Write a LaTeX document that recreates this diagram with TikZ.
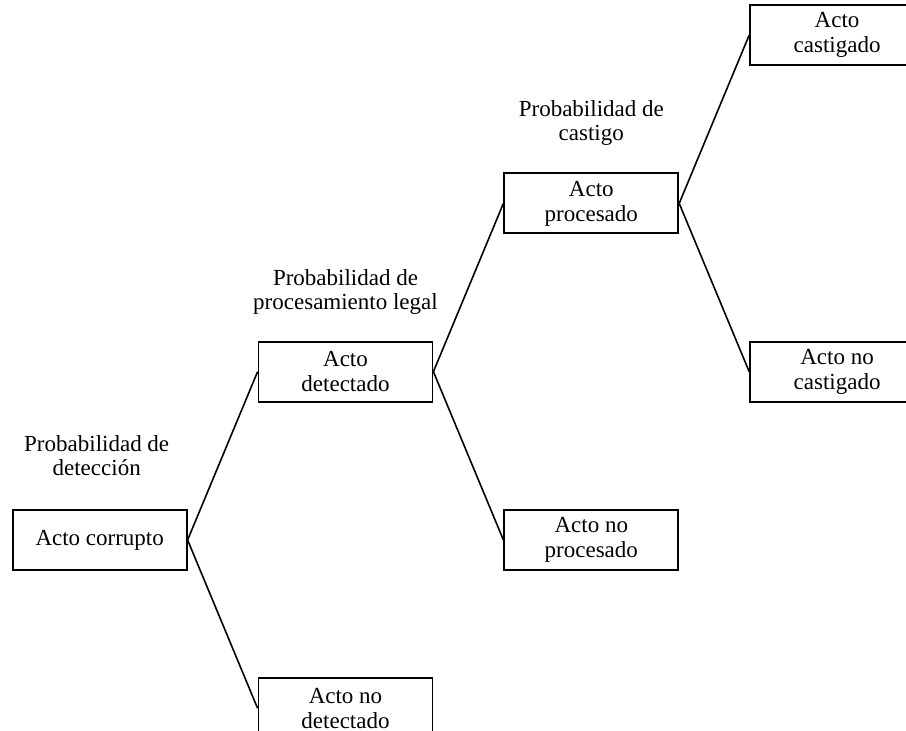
\documentclass[tikz,border=0pt]{standalone}
\usepackage{fontspec}
\setmainfont{Liberation Serif}
\usetikzlibrary{positioning}

\begin{document}
\begin{tikzpicture}[x=1pt,y=1pt,
  tree box/.style={draw,line width=0.9pt,
   minimum width=87pt,minimum height=30pt,inner sep=0pt,
   align=center,font=\fontsize{11.5}{12.5}\selectfont},
  prob label/.style={align=center,inner sep=0pt,
   font=\fontsize{11.5}{12}\selectfont},
  branch/.style={line width=0.8pt},
  node distance=53.25pt and 35pt]

 \clip (-49.85,-95.5) rectangle (403.15,270);

 \node [tree box] (corrupto) at (0,0){Acto corrupto};
 \node[prob label, yshift = 42pt, xshift = -1.5pt] (labdet) at (corrupto.center){Probabilidad de\\detección};

 \node [above right = of corrupto, tree box] (detectado){Acto\\detectado};
 \node [below right = of corrupto, tree box] (nodetectado){Acto no\\detectado};
 \node[prob label, yshift = 40pt] (labproc) at (detectado.center){Probabilidad de\\procesamiento legal};

 \node [above right = of detectado, tree box] (procesado){Acto\\procesado};
 \node [below right = of detectado, tree box] (noprocesado){Acto no\\procesado};
 \node[prob label, yshift = 40pt] (labcast) at (procesado.center){Probabilidad de\\castigo};

 \node [above right = of procesado, tree box] (castigado){Acto\\castigado};
 \node [below right = of procesado, tree box] (nocastigado){Acto no\\castigado};

 \draw[branch] (corrupto.east) -- (detectado.west);
 \draw[branch] (corrupto.east) -- (nodetectado.west);
 \draw[branch] (detectado.east) -- (procesado.west);
 \draw[branch] (detectado.east) -- (noprocesado.west);
 \draw[branch] (procesado.east) -- (castigado.west);
 \draw[branch] (procesado.east) -- (nocastigado.west);
\end{tikzpicture}
\end{document}
